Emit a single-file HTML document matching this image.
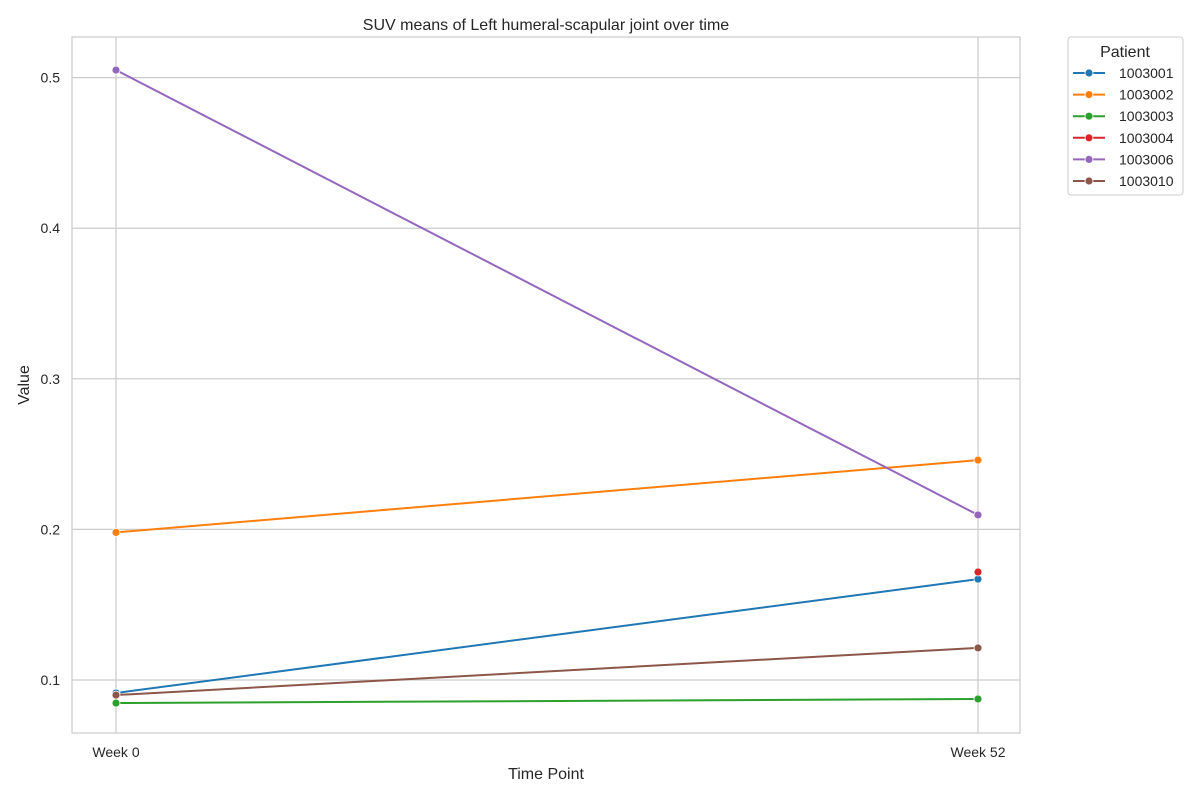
<!DOCTYPE html>
<html><head><meta charset="utf-8"><style>
body{margin:0;background:#fff;font-family:"Liberation Sans","DejaVu Sans",sans-serif;}
svg text{font-family:"Liberation Sans","DejaVu Sans",sans-serif;fill:#262626;}
</style></head><body>
<svg id="chart" width="1200" height="800">
<rect x="72" y="37" width="948" height="696" fill="#fff" stroke="#cccccc" stroke-width="1.25"/>
<g id="grid"></g><g id="series"></g>
<text x="546" y="30" text-anchor="middle" font-size="16">SUV means of Left humeral-scapular joint over time</text>
<text x="546" y="779" text-anchor="middle" font-size="16">Time Point</text>
<text x="29" y="385" text-anchor="middle" font-size="16" transform="rotate(-90 29 385)">Value</text>
<g id="legend">
<rect x="1068" y="37" width="115" height="158" rx="3" fill="#fff" stroke="#cccccc"/>
<text x="1125" y="57" text-anchor="middle" font-size="16">Patient</text>
</g>
</svg>
<script>
const categories=["Week 0","Week 52"];
const patients=["1003001","1003002","1003003","1003004","1003006","1003010"];
const colors=["#1f77b4","#ff7f0e","#2ca02c","#d62728","#9467bd","#8c564b"];
const s1003001=[0.0914,0.167];
const s1003002=[0.198,0.246];
const s1003003=[0.0847,0.0874];
const s1003004=[null,0.1717];
const s1003006=[0.505,0.2096];
const s1003010=[0.090,0.1213];
const yTicks=[0.1,0.2,0.3,0.4,0.5];
const seriesValues=[s1003001,s1003002,s1003003,s1003004,s1003006,s1003010];
const NS="http://www.w3.org/2000/svg";
function xs(i){return 116+i*(978-116)/(categories.length-1);}
function ys(v){return 680-(v-0.1)*1506;}
function mk(t,a,p){const e=document.createElementNS(NS,t);for(const k in a)e.setAttribute(k,a[k]);p.appendChild(e);return e;}
const grid=document.getElementById('grid');
yTicks.forEach(v=>{
 const l=mk('line',{x1:72,x2:1020,y1:ys(v),y2:ys(v),stroke:'#cccccc','stroke-width':1.25},grid);
 
 
 const t=mk('text',{x:60,y:ys(v)+5,'text-anchor':'end','font-size':14},grid);
 t.textContent=v.toFixed(1);
 
 
});
categories.forEach((c,i)=>{
 const l=mk('line',{x1:xs(i),x2:xs(i),y1:37,y2:733,stroke:'#cccccc','stroke-width':1.25},grid);
 
 
 const t=mk('text',{x:xs(i),y:757,'text-anchor':'middle','font-size':14},grid);
 t.textContent=c;
 
 
});
const sg=document.getElementById('series');
seriesValues.forEach((vals,si)=>{
 const pts=[];vals.forEach((v,i)=>{if(v!==null)pts.push([xs(i),ys(v)]);});
 if(pts.length>1){
  const p=mk('polyline',{points:pts.map(q=>q.join(',')).join(' '),fill:'none',stroke:colors[si],'stroke-width':2},sg);
  
  
 }
 pts.forEach(q=>{
  const c=mk('circle',{cx:q[0],cy:q[1],r:4,fill:colors[si],stroke:'#fff','stroke-width':0.8},sg);
  
  
 });
});
const lg=document.getElementById('legend');
patients.forEach((p,i)=>{
 const y=73+i*21.6;
 const l=mk('line',{x1:1073,x2:1105,y1:y,y2:y,stroke:colors[i],'stroke-width':2},lg);
 
 
 const c=mk('circle',{cx:1089,cy:y,r:4,fill:colors[i],stroke:'#fff','stroke-width':0.8},lg);
 
 
 const t=mk('text',{x:1119,y:y+5,'font-size':14},lg);
 t.textContent=p;
 
 
});
</script>
</body></html>
